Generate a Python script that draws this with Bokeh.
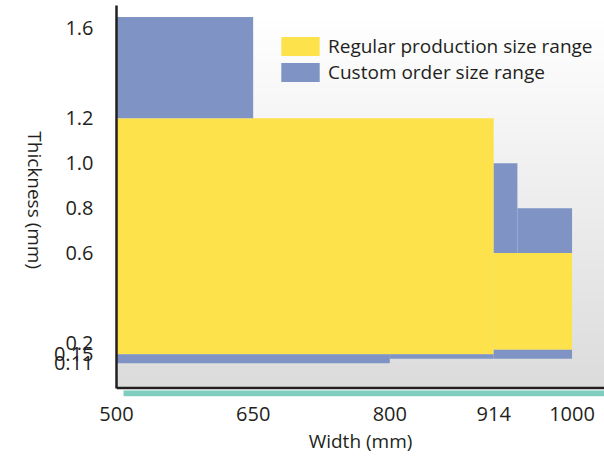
import numpy as np
from bokeh.plotting import figure
from bokeh.layouts import row
from bokeh.models import (Range1d, FixedTicker, Legend, LegendItem, Span, BoxAnnotation)
from bokeh.embed import file_html
from bokeh.resources import INLINE

# ---------------- data ----------------
x_ticks = [500, 650, 800, 914, 1000]
y_ticks = [0.11, 0.15, 0.2, 0.6, 0.8, 1.0, 1.2, 1.6]
y_tick_labels = ["0.11", "0.15", "0.2", "0.6", "0.8", "1.0", "1.2", "1.6"]

series_names = ["Regular production size range", "Custom order size range"]
x_title = "Width (mm)"
y_title = "Thickness (mm)"

# Regular production size range (width mm x thickness mm)
regular_left = [500, 914]
regular_right = [914, 1000]
regular_bottom = [0.15, 0.17]
regular_top = [1.2, 0.6]

# Custom order size range
custom_left = [500, 500, 800, 914, 940, 914]
custom_right = [650, 800, 914, 940, 1000, 1000]
custom_bottom = [1.2, 0.11, 0.13, 0.6, 0.6, 0.13]
custom_top = [1.65, 0.15, 0.15, 1.0, 0.8, 0.17]

# ---------------- style ----------------
YELLOW = "#fee24b"
BLUE = "#7f93c5"
TEAL = "#7fcdbe"
INK = "#231f20"
FONT = "Open Sans"

TW = 50            # width of the strip holding the vertical y title
W, H = 604, 456
X0, X1 = 500, 1035.6
Y0, Y1 = -0.0376, 1.701

# ---- strip with the y-axis title (reads top to bottom) ----
t = figure(width=TW, height=H, x_range=Range1d(0, TW), y_range=Range1d(0, H),
           output_backend="svg", toolbar_location=None,
           x_axis_type=None, y_axis_type=None,
           min_border=0)
t.outline_line_color = None
t.grid.visible = False
t.background_fill_color = "white"
t.border_fill_color = "white"
t.text(x=[34], y=[229], text=[y_title], angle=-np.pi / 2,
       text_font={"value": FONT}, text_font_size="19px", text_color=INK,
       text_align="center", text_baseline="middle")

# ---- main chart ----
p = figure(width=W - TW, height=H, x_range=Range1d(X0, X1), y_range=Range1d(Y0, Y1),
           output_backend="svg", toolbar_location=None,
           min_border_left=115 - TW, min_border_right=0, min_border_top=5, min_border_bottom=30)
p.background_fill_color = "white"
p.border_fill_color = "white"
p.outline_line_color = None
p.grid.visible = False

# vertical grey gradient background of the chart area
n = 256
img = np.empty((n, 1), dtype=np.uint32)
view = img.view(dtype=np.uint8).reshape((n, 1, 4))
frac = np.linspace(0, 1, n)
grey = np.clip(220 + 35 * frac * (Y1 / 1.64), 220, 255).astype(np.uint8)
view[:, 0, 0] = grey
view[:, 0, 1] = grey
view[:, 0, 2] = grey
view[:, 0, 3] = 255
p.image_rgba(image=[img], x=X0, y=0, dw=X1 - X0, dh=Y1)

r_reg = p.quad(left=regular_left, right=regular_right, bottom=regular_bottom, top=regular_top,
               fill_color=YELLOW, line_color=None)
r_cus = p.quad(left=custom_left, right=custom_right, bottom=custom_bottom, top=custom_top,
               fill_color=BLUE, line_color=None)

# x axis line and teal band below it
p.add_layout(Span(location=0, dimension="width", line_color=INK, line_width=2.5))
p.add_layout(BoxAnnotation(left=507.7, right=X1, bottom=Y0, top=-0.011,
                           fill_color=TEAL, fill_alpha=1.0, line_color=None))

# x axis
xa = p.xaxis[0]
xa.ticker = FixedTicker(ticks=x_ticks)
xa.axis_line_color = None
xa.major_tick_line_color = None
xa.minor_tick_line_color = None
xa.major_tick_out = 0
xa.major_tick_in = 0
xa.major_label_standoff = 10
xa.major_label_text_font = FONT
xa.major_label_text_font_size = "20px"
xa.major_label_text_color = INK
xa.axis_label = x_title
xa.axis_label_text_font = FONT
xa.axis_label_text_font_size = "19px"
xa.axis_label_text_font_style = "normal"
xa.axis_label_text_color = INK
xa.axis_label_standoff = 4

# y axis
ya = p.yaxis[0]
ya.ticker = FixedTicker(ticks=y_ticks)
ya.major_label_overrides = {tk: s for tk, s in zip(y_ticks, y_tick_labels)}
ya.bounds = (0, Y1)
ya.axis_line_color = INK
ya.axis_line_width = 2.5
ya.major_tick_line_color = None
ya.minor_tick_line_color = None
ya.major_tick_out = 0
ya.major_tick_in = 0
ya.major_label_standoff = 23
ya.major_label_text_font = FONT
ya.major_label_text_font_size = "20px"
ya.major_label_text_color = INK

legend = Legend(items=[LegendItem(label=series_names[0], renderers=[r_reg]),
                       LegendItem(label=series_names[1], renderers=[r_cus])],
                location=(160, 311), orientation="vertical",
                glyph_width=48, glyph_height=24, label_height=19, spacing=0,
                padding=0, margin=0, label_standoff=4,
                label_text_font=FONT, label_text_font_size="19px", label_text_color=INK,
                background_fill_alpha=0, border_line_color=None)
p.add_layout(legend)

layout = row(t, p, spacing=0)
open("out.html", "w").write(file_html(layout, INLINE))
